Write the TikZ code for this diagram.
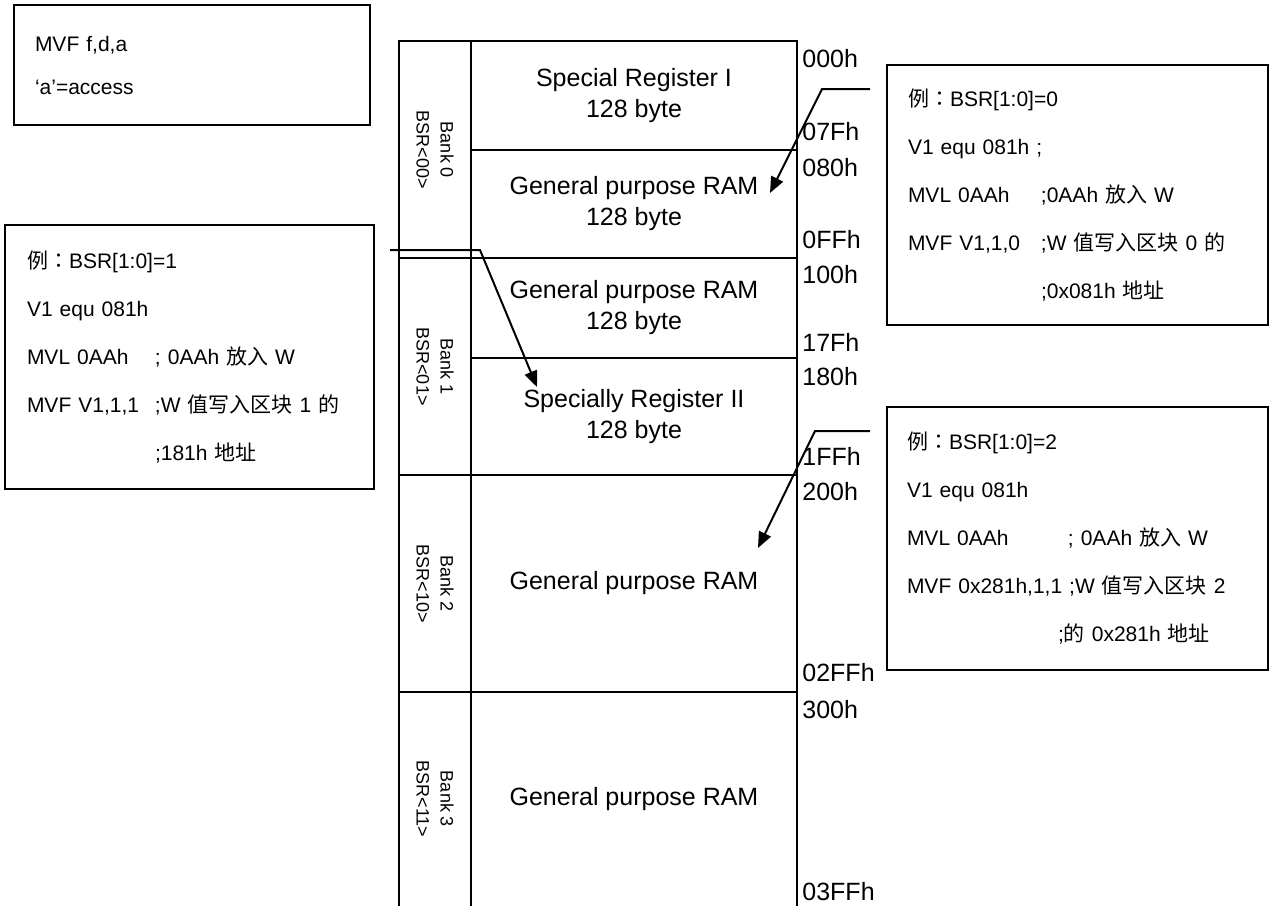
\documentclass[tikz,border=0pt]{standalone}
\usepackage{fontspec}
\setmainfont{Liberation Sans}
\newfontfamily\cjk{Noto Sans CJK SC}
\newfontfamily\cjktc{Noto Sans CJK TC}
\usetikzlibrary{positioning,arrows.meta}
\tikzset{
memcell/.style={
align=center,
inner sep=0pt,
font=\fontsize{12.5}{15.5}\selectfont
},
addr/.style={
anchor=west,
inner sep=0pt,
font=\fontsize{12.5}{15}\selectfont
},
banklabel/.style={
rotate=-90,
align=center,
inner sep=0pt,
font=\fontsize{9}{12}\selectfont
},
codebox/.style={
draw,
line width=1pt,
align=left,
inner xsep=10.5pt,
inner ysep=0pt,
font=\fontsize{10.5}{24}\selectfont
},
mapline/.style={
line width=0.75pt
},
pointer/.style={
-{Triangle[length=8pt,width=6.5pt]},
line width=1pt
}
}
\newcommand{\cmt}[2][65pt]{\makebox[#1][l]{#2}}
\newcommand{\eg}{{\cjk 例}{\cjktc ：}}

\begin{document}
\begin{tikzpicture}[x=0.5pt,y=-0.5pt]
\useasboundingbox (0,0) rectangle (1271,906);

% memory map
\draw[mapline] (399,906)--(399,41)--(797,41)--(797,906);
\draw[mapline] (471,41)--(471,906);
\foreach \y in {258,475,692}
\draw[mapline] (399,\y)--(797,\y);
\foreach \y in {150,358}
\draw[mapline] (471,\y)--(797,\y);

\node[memcell](c00) at (634,95.5){Special Register I\\128 byte};
\node[memcell](c01) at (634,204){General purpose RAM\\128 byte};
\node[memcell](c10) at (634,308){General purpose RAM\\128 byte};
\node[memcell](c11) at (634,416.5){Specially Register II\\128 byte};
\node[memcell](c2) at (634,583.5){General purpose RAM};
\node[memcell](c3) at (634,799){General purpose RAM};

\foreach \n/\b/\y in {0/00/150,1/01/366.5,2/10/583.5,3/11/799}
\node[banklabel](bank\n) at (435,\y){Bank \n\\BSR<\b>};

\foreach \t/\y in {000h/59,07Fh/132,080h/168,0FFh/240,100h/275,17Fh/342,180h/377,1FFh/456,200h/492,02FFh/673,300h/710,03FFh/892}
\node[addr](a\t) at (802,\y){\t};

% code examples
\node[codebox,font=\fontsize{10.5}{21.5}\selectfont,text width=157pt,minimum height=60pt](fmt) at (192,65){%
MVF f,d,a\\
‘a’=access};

\node[codebox,text width=169.5pt,minimum height=130pt](ex0) at (1077.5,195){%
\eg BSR[1:0]=0\\
V1 equ 081h ;\\
\cmt[66.5pt]{MVL 0AAh};0AAh {\cjk 放入} W\\
\cmt[66.5pt]{MVF V1,1,0};W {\cjk 值写入区块} 0 {\cjk 的}\\
\cmt[66.5pt]{};0x081h {\cjk 地址}};

\node[codebox,inner xsep=11pt,text width=162.5pt,minimum height=132pt](ex1) at (189.5,357){%
\eg BSR[1:0]=1\\
V1 equ 081h\\
\cmt[64pt]{MVL 0AAh}; 0AAh {\cjk 放入} W\\
\cmt[64pt]{MVF V1,1,1};W {\cjk 值写入区块} 1 {\cjk 的}\\
\cmt[64pt]{};181h {\cjk 地址}};

\node[codebox,inner xsep=10pt,text width=170.5pt,minimum height=131.5pt](ex2) at (1077.5,538.5){%
\eg BSR[1:0]=2\\
V1 equ 081h\\
\cmt[80.5pt]{MVL 0AAh}; 0AAh {\cjk 放入} W\\
MVF 0x281h,1,1 ;W {\cjk 值写入区块} 2\\
\cmt[75.5pt]{};{\cjk 的} 0x281h {\cjk 地址}};

% pointers
\coordinate (s0) at (870,89);
\coordinate (t0) at (770,193);
\coordinate (s1) at (390,250);
\coordinate (t1) at (537,387);
\coordinate (s2) at (870,431);
\coordinate (t2) at (758,548);
\draw[pointer](s0)--++(-48,0)--(t0);
\draw[pointer](s1)--++(90,0)--(t1);
\draw[pointer](s2)--++(-55,0)--(t2);
\end{tikzpicture}
\end{document}
